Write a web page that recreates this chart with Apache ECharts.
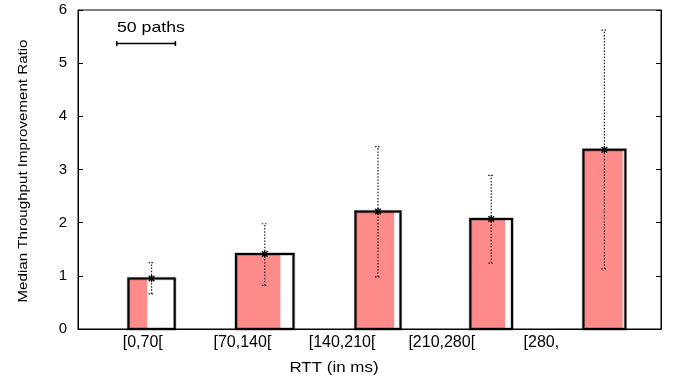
<!DOCTYPE html>
<html>
<head>
<meta charset="utf-8">
<script src="https://cdn.jsdelivr.net/npm/echarts@6/dist/echarts.min.js"></script>
<style>
  html, body { margin: 0; padding: 0; background: #fff; }
  #rttChart { width: 675px; height: 382px; }
</style>
</head>
<body>
<div id="rttChart"></div>
<script>
  // RTT buckets
  var categories = ['[0,70[', '[70,140[', '[140,210[', '[210,280[', '[280,']
  // median improvement ratio (bar top + star)
  var medianRatio = [0.95, 1.41, 2.21, 2.07, 3.37]
  // dotted range per bucket
  var ratioLow = [0.66, 0.82, 0.98, 1.24, 1.13]
  var ratioHigh = [1.25, 1.98, 3.43, 2.89, 5.62]
  // box width = all paths, pink part = improved paths
  var totalPaths = [39.5, 49, 38.4, 35.6, 35.8]
  var improvedPaths = [16, 37.8, 33, 29.6, 33.5]
  var yTicks = [0, 1, 2, 3, 4, 5, 6]
  var scalePaths = [50]

  var FONT = '"Liberation Sans", Arial, Helvetica, sans-serif'
  var PATH_UNIT = 0.518 / 50 // x-axis units per path
  var SCALE_ANCHOR = [-0.308, 5.37]

  var boxData = categories.map(function (c, i) {
    return [i, medianRatio[i], totalPaths[i], improvedPaths[i]]
  })
  var errData = categories.map(function (c, i) {
    return [i, medianRatio[i], ratioLow[i], ratioHigh[i]]
  })

  var myChart = echarts.init(document.getElementById('rttChart'))

  var option = {
    animation: false,
    textStyle: {fontFamily: FONT},
    grid: {
      left: 78, right: 14, top: 10, bottom: 53,
      show: true, borderColor: '#000', borderWidth: 1, backgroundColor: 'transparent'
    },
    xAxis: [{
      type: 'value',
      min: -0.65,
      max: 4.5,
      axisLine: {show: true, onZero: false, lineStyle: {color: '#000', width: 1}},
      axisTick: {show: false},
      axisLabel: {show: false},
      splitLine: {show: false}
    }, {
      type: 'value',
      min: -0.65,
      max: 5.2,
      position: 'bottom',
      axisLine: {show: false, onZero: false},
      axisTick: {show: false},
      splitLine: {show: false},
      axisLabel: {
        customValues: [0, 1, 2, 3, 4],
        formatter: function (v) { return categories[Math.round(v)] },
        color: '#000',
        fontSize: 16,
        fontFamily: FONT,
        margin: 6
      }
    }],
    yAxis: [{
      type: 'value',
      min: 0,
      max: 6,
      interval: 1,
      axisLine: {show: true, onZero: false, lineStyle: {color: '#000', width: 1}},
      axisTick: {show: true, inside: true, length: 5, lineStyle: {color: '#000'}},
      axisLabel: {
        color: '#000', fontSize: 15, fontFamily: FONT, margin: 11,
        formatter: function (v) { return yTicks.indexOf(v) >= 0 ? String(v) : '' }
      },
      splitLine: {show: false}
    }, {
      type: 'value',
      position: 'right',
      min: 0,
      max: 6,
      interval: 1,
      axisLine: {show: true, onZero: false, lineStyle: {color: '#000', width: 1}},
      axisTick: {show: true, inside: true, length: 5, lineStyle: {color: '#000'}},
      axisLabel: {show: false},
      splitLine: {show: false}
    }],
    graphic: [{
      type: 'text',
      x: 23,
      y: 171,
      rotation: Math.PI / 2,
      scaleX: 1.12,
      style: {
        text: 'Median Throughput Improvement Ratio',
        fill: '#000',
        font: '13.5px ' + FONT,
        textAlign: 'center',
        textVerticalAlign: 'middle'
      }
    }, {
      type: 'text',
      x: 334,
      y: 368,
      scaleX: 1.13,
      style: {
        text: 'RTT (in ms)',
        fill: '#000',
        font: '15px ' + FONT,
        textAlign: 'center',
        textVerticalAlign: 'middle'
      }
    }, {
      type: 'text',
      x: 117,
      y: 28,
      scaleX: 1.22,
      style: {
        text: '50 paths',
        fill: '#000',
        font: '14.5px ' + FONT,
        textAlign: 'left',
        textVerticalAlign: 'middle'
      }
    }],
    series: [{
      name: 'boxes',
      type: 'custom',
      xAxisIndex: 0,
      yAxisIndex: 0,
      data: boxData,
      renderItem: function (params, api) {
        var base = api.coord([api.value(0), 0])
        var top = api.coord([api.value(0), api.value(1)])
        var w = api.size([PATH_UNIT * api.value(2), 0])[0]
        var wf = api.size([PATH_UNIT * api.value(3), 0])[0]
        var x0 = base[0] - w / 2
        return {
          type: 'group',
          children: [{
            type: 'rect',
            shape: {x: x0, y: top[1], width: wf, height: base[1] - top[1]},
            style: {fill: '#FF8A8A'}
          }, {
            type: 'rect',
            shape: {x: x0, y: top[1], width: w, height: base[1] - top[1]},
            style: {fill: null, stroke: 'rgba(0,0,0,0.25)', lineWidth: 3.5}
          }, {
            type: 'rect',
            shape: {x: x0, y: top[1], width: w, height: base[1] - top[1]},
            style: {fill: null, stroke: '#000', lineWidth: 2}
          }]
        }
      }
    }, {
      name: 'range',
      type: 'custom',
      xAxisIndex: 0,
      yAxisIndex: 0,
      data: errData,
      z: 3,
      renderItem: function (params, api) {
        var mid = api.coord([api.value(0), api.value(1)])
        var lo = api.coord([api.value(0), api.value(2)])
        var hi = api.coord([api.value(0), api.value(3)])
        var x = mid[0]
        var s = 3.5
        var dot = function () {
          return {stroke: '#222', lineWidth: 1.2, lineDash: [1.5, 1.6], fill: null}
        }
        var star = function () {
          return {stroke: '#000', lineWidth: 1.4}
        }
        return {
          type: 'group',
          children: [
            {type: 'line', shape: {x1: x, y1: lo[1], x2: x, y2: hi[1]}, style: dot()},
            {type: 'line', shape: {x1: x - 3, y1: lo[1], x2: x + 3, y2: lo[1]}, style: dot()},
            {type: 'line', shape: {x1: x - 3, y1: hi[1], x2: x + 3, y2: hi[1]}, style: dot()},
            {type: 'line', shape: {x1: x - s, y1: mid[1], x2: x + s, y2: mid[1]}, style: star()},
            {type: 'line', shape: {x1: x, y1: mid[1] - s, x2: x, y2: mid[1] + s}, style: star()},
            {type: 'line', shape: {x1: x - s * 0.8, y1: mid[1] - s * 0.8, x2: x + s * 0.8, y2: mid[1] + s * 0.8}, style: star()},
            {type: 'line', shape: {x1: x - s * 0.8, y1: mid[1] + s * 0.8, x2: x + s * 0.8, y2: mid[1] - s * 0.8}, style: star()}
          ]
        }
      }
    }, {
      name: 'scale',
      type: 'custom',
      xAxisIndex: 0,
      yAxisIndex: 0,
      data: scalePaths.map(function (n) { return [n] }),
      renderItem: function (params, api) {
        var p = api.coord(SCALE_ANCHOR)
        var w = api.size([PATH_UNIT * api.value(0), 0])[0]
        var ln = function () { return {stroke: '#000', lineWidth: 1.6} }
        return {
          type: 'group',
          children: [
            {type: 'line', shape: {x1: p[0], y1: p[1], x2: p[0] + w, y2: p[1]}, style: ln()},
            {type: 'line', shape: {x1: p[0], y1: p[1] - 2.5, x2: p[0], y2: p[1] + 2.5}, style: ln()},
            {type: 'line', shape: {x1: p[0] + w, y1: p[1] - 2.5, x2: p[0] + w, y2: p[1] + 2.5}, style: ln()}
          ]
        }
      }
    }]
  }

  myChart.setOption(option)
</script>
</body>
</html>
